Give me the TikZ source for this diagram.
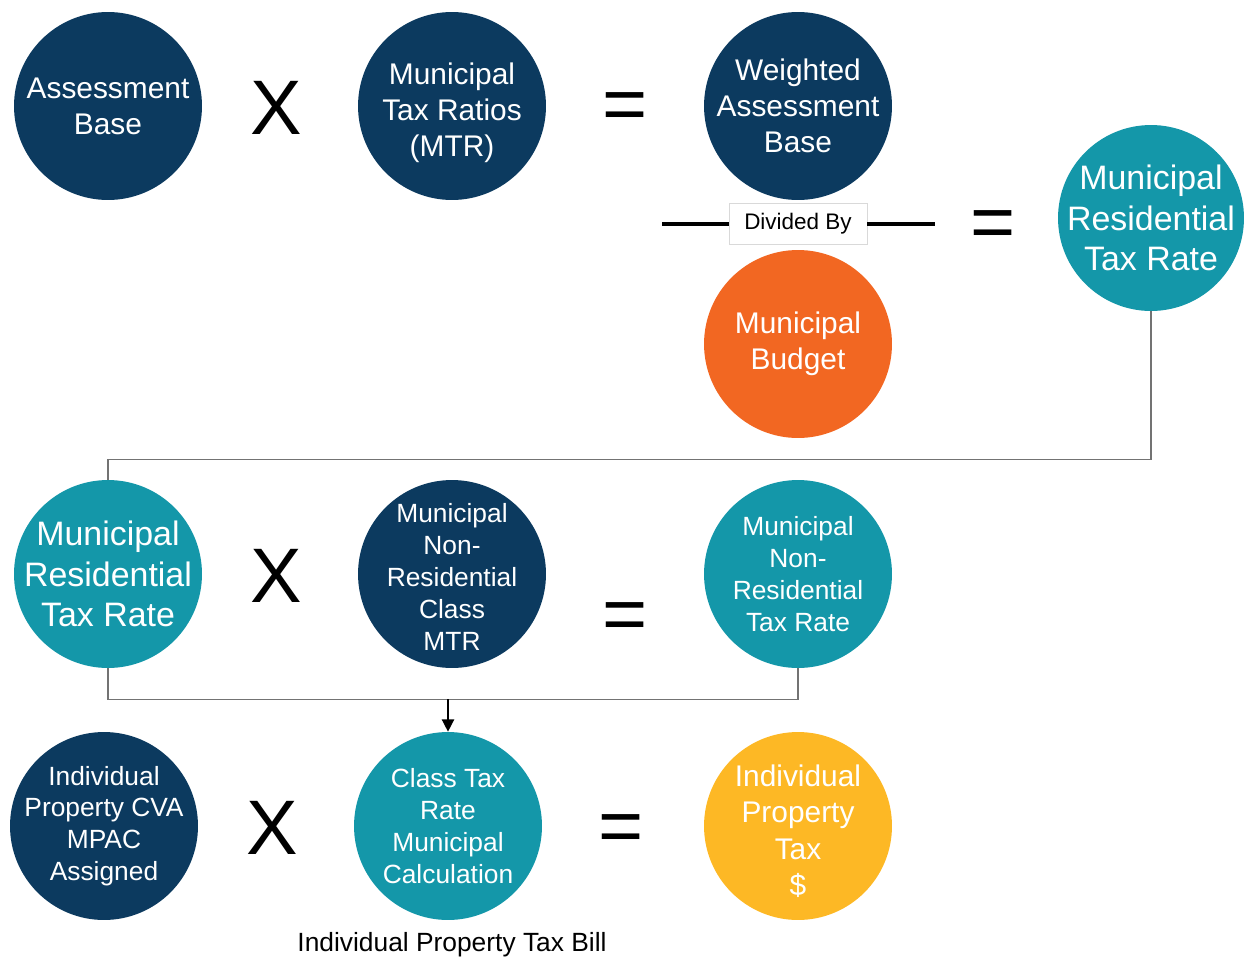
\documentclass[tikz,border=0pt]{standalone}
\usepackage{fontspec}
\setmainfont{Liberation Sans}
\usetikzlibrary{arrows.meta}
\definecolor{navy}{HTML}{0C3A5F}
\definecolor{tealc}{HTML}{1497A9}
\definecolor{orangec}{HTML}{F26722}
\definecolor{yellowc}{HTML}{FDB825}
\newcommand{\lowered}[2]{\raisebox{-#1}[\height][\depth]{\parbox{4cm}{\centering #2}}}
\tikzset{
  disc/.style={circle,minimum size=3.76cm,inner sep=-40pt,align=center,text=white,font=\fontsize{17}{20.4}\selectfont},
  navydisc/.style={disc,fill=navy},
  tealdisc/.style={disc,fill=tealc},
  bigtext/.style={font=\fontsize{19.3}{23.2}\selectfont},
  smalltext/.style={font=\fontsize{15}{18.1}\selectfont},
  op/.style={font=\fontsize{44}{44}\selectfont,inner sep=0pt},
  eq/.style={op,yshift=-0.16cm},
  elbow/.style={draw=black!55,line width=0.8pt}
}
\begin{document}
\begin{tikzpicture}[x=0.02cm,y=-0.02cm]
\useasboundingbox (0,0) rectangle (1244,960);
% top row
\node[navydisc] (ab) at (108,106) {Assessment\\Base};
\node[op] (x1) at (276,108) {X};
\node[navydisc] (mtr) at (452,106) {\lowered{4pt}{Municipal\\Tax Ratios\\(MTR)}};
\node[eq] (e1) at (625,104) {=};
\node[navydisc] (wab) at (798,106) {Weighted\\Assessment\\Base};
\node[draw=black!15,fill=white,minimum width=2.76cm,minimum height=0.82cm,inner sep=0pt,font=\fontsize{12.8}{15}\selectfont] (div) at (798,224) {Divided By};
\coordinate (dl) at (662,224);
\coordinate (dr) at (935,224);
\draw[line width=2pt] (dl)--(div.west) (div.east)--(dr);
\node[disc,fill=orangec] (mb) at (798,344) {Municipal\\Budget};
\node[eq] (e2) at (993,222) {=};
\node[tealdisc,bigtext,minimum size=3.72cm] (mrt) at (1151,218) {Municipal\\Residential\\Tax Rate};
% middle row
\node[tealdisc,bigtext] (mrt2) at (108,574) {Municipal\\Residential\\Tax Rate};
\node[op] (x2) at (276,576) {X};
\node[navydisc,smalltext] (nrc) at (452,574) {\lowered{1.7pt}{Municipal\\Non-\\Residential\\Class\\MTR}};
\node[eq] (e3) at (625,614) {=};
\node[tealdisc,smalltext] (nrt) at (798,574) {Municipal\\Non-\\Residential\\Tax Rate};
\draw[elbow] (mrt.south)--++(0,148)-|(mrt2.north);
\draw[elbow] (mrt2.south)--++(0,31)-|(nrt.south);
% bottom row
\node[navydisc,smalltext] (cva) at (104,826) {Individual\\Property CVA\\MPAC\\Assigned};
\node[op] (x3) at (272,828) {X};
\node[tealdisc,smalltext] (ctr) at (448,826) {Class Tax\\Rate\\Municipal\\Calculation};
\node[eq] (e4) at (621,826) {=};
\node[disc,fill=yellowc,font=\fontsize{17}{20.7}\selectfont] (ipt) at (798,826) {\lowered{3pt}{Individual\\Property\\Tax\\\$}};
\coordinate (jn) at (448,699);
\draw[-{Triangle[length=7pt,width=7pt]},line width=0.8pt] (jn)--(ctr.north);
\node[font=\fontsize{15}{18}\selectfont] (bill) at (452,945) {Individual Property Tax Bill};
\end{tikzpicture}
\end{document}
